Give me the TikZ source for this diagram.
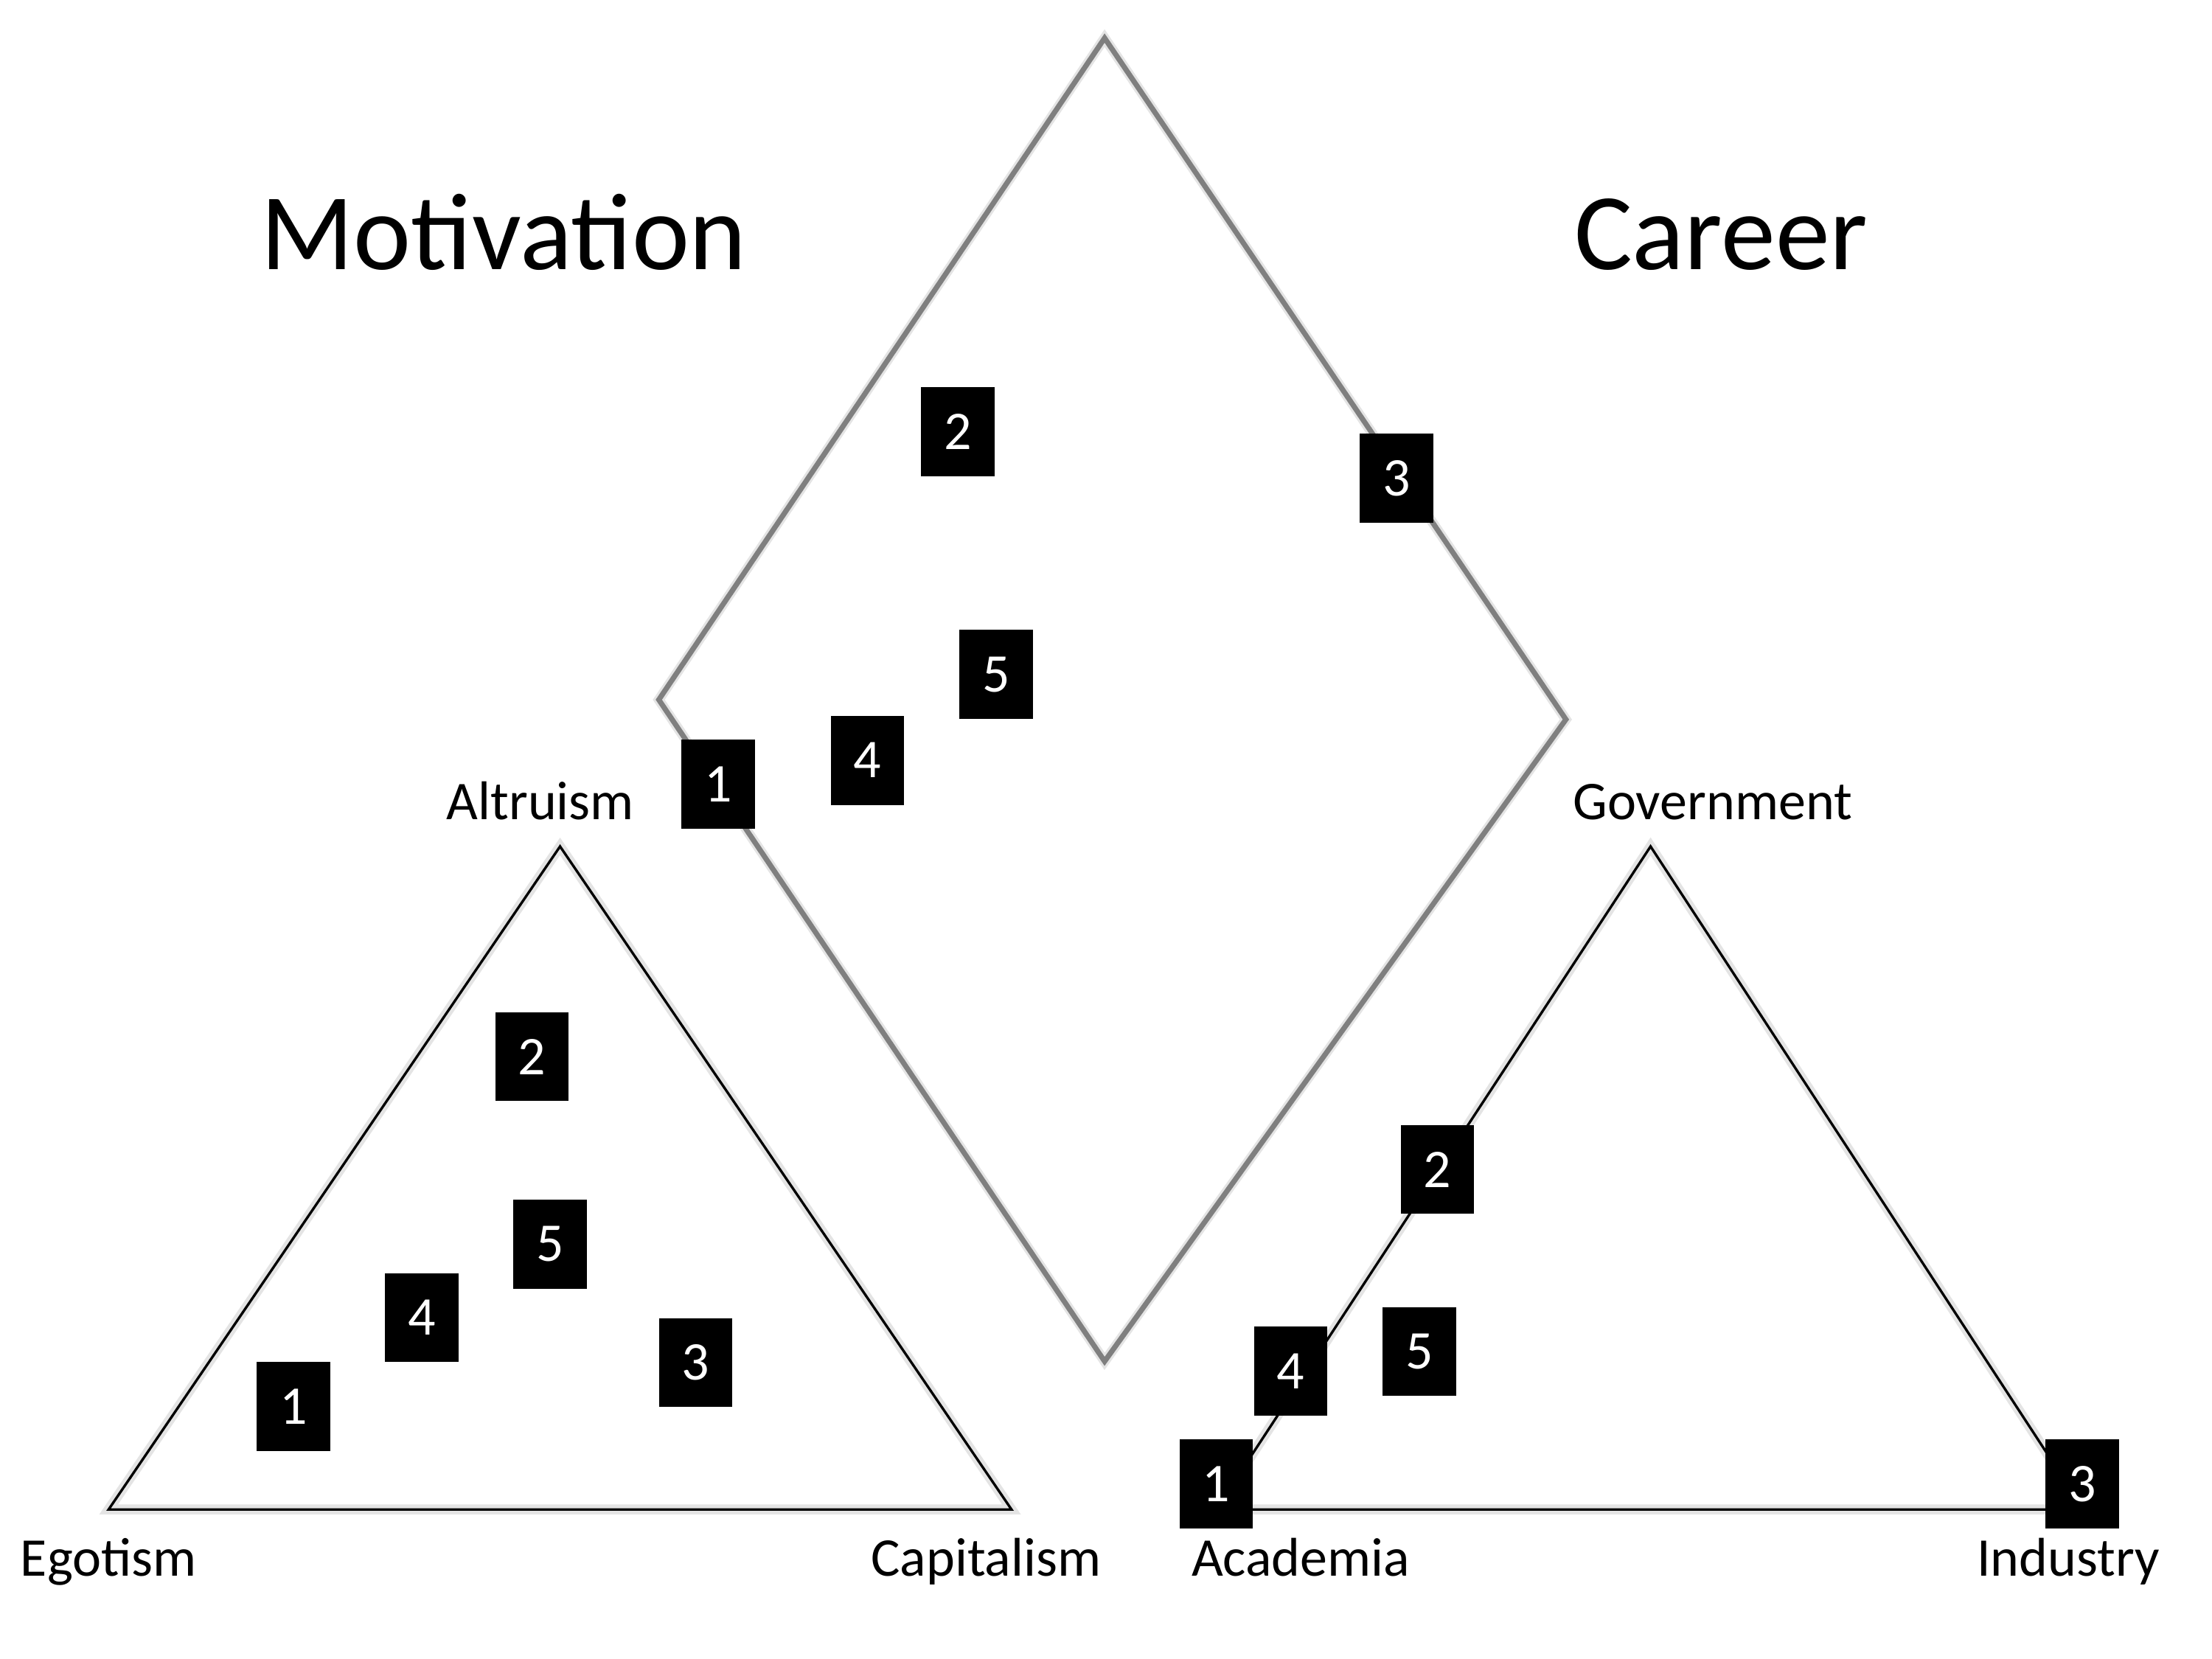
\documentclass[tikz,border=0pt]{standalone}
\usepackage{fontspec}
\setmainfont{Carlito}
\usepackage{xcolor}
\usepackage{tikz}
\usetikzlibrary{positioning}
\definecolor{inkOne}{HTML}{000000}
\definecolor{kiteGray}{HTML}{7F7F7F}
\definecolor{shadec}{HTML}{E4E4E4}
\tikzset{
  tag/.style={fill=inkOne, text=white, minimum width=0.52cm, minimum height=0.63cm, inner sep=0pt,
    font=\fontsize{11}{13}\selectfont},
  lab/.style={anchor=base, font=\fontsize{11}{13}\selectfont, text=inkOne},
  head/.style={anchor=base, font=\fontsize{22}{26}\selectfont, text=inkOne},
  tri/.style={draw=inkOne, line width=0.5pt, line join=miter},
  kite/.style={draw=kiteGray, line width=1.05pt, line join=miter},
  shade/.style={draw=shadec, line width=2pt, shift={(0.008,-0.022)}},
}

\begin{document}
\begin{tikzpicture}
  \useasboundingbox (0,0) rectangle (15.68,-11.76);

  % corners
  \coordinate (kT) at (7.83,-0.27);
  \coordinate (kR) at (11.10,-5.10);
  \coordinate (kB) at (7.83,-9.65);
  \coordinate (kL) at (4.67,-4.96);
  \coordinate (mT) at (3.97,-6.00);
  \coordinate (mL) at (0.77,-10.70);
  \coordinate (mR) at (7.17,-10.70);
  \coordinate (cT) at (11.70,-6.00);
  \coordinate (cL) at (8.62,-10.70);
  \coordinate (cR) at (14.77,-10.70);

  % shadows
  \draw[shade] (kT) -- (kR) -- (kB) -- (kL) -- cycle;
  \draw[shade] (mT) -- (mR) -- (mL) -- cycle;
  \draw[shade] (cT) -- (cR) -- (cL) -- cycle;

  % outlines
  \draw[kite] (kT) -- (kR) -- (kB) -- (kL) -- cycle;
  \draw[tri] (mT) -- (mR) -- (mL) -- cycle;
  \draw[tri] (cT) -- (cR) -- (cL) -- cycle;

  % titles and corner labels
  \node[head] (motiv) at (3.57,-1.91) {Motivation};
  \node[head] (career) at (12.20,-1.91) {Career};
  \node[lab] (altru) at (3.83,-5.81) {Altruism};
  \node[lab] (ego) at (0.77,-11.17) {Egotism};
  \node[lab] (capit) at (6.99,-11.17) {Capitalism};
  \node[lab] (gov) at (12.14,-5.81) {Government};
  \node[lab] (acad) at (9.22,-11.17) {Academia};
  \node[lab] (indus) at (14.66,-11.17) {Industry};

  % motivation
  \node[tag] (m1) at (2.08,-9.97) {1};
  \node[tag] (m2) at (3.77,-7.49) {2};
  \node[tag] (m3) at (4.93,-9.66) {3};
  \node[tag] (m4) at (2.99,-9.34) {4};
  \node[tag] (m5) at (3.90,-8.82) {5};

  % diamond
  \node[tag] (k1) at (5.09,-5.56) {1};
  \node[tag] (k2) at (6.79,-3.06) {2};
  \node[tag] (k3) at (9.90,-3.39) {3};
  \node[tag] (k4) at (6.15,-5.39) {4};
  \node[tag] (k5) at (7.06,-4.78) {5};

  % career
  \node[tag] (c1) at (8.62,-10.52) {1};
  \node[tag] (c2) at (10.19,-8.29) {2};
  \node[tag] (c3) at (14.76,-10.52) {3};
  \node[tag] (c4) at (9.15,-9.72) {4};
  \node[tag] (c5) at (10.06,-9.58) {5};
\end{tikzpicture}
\end{document}
